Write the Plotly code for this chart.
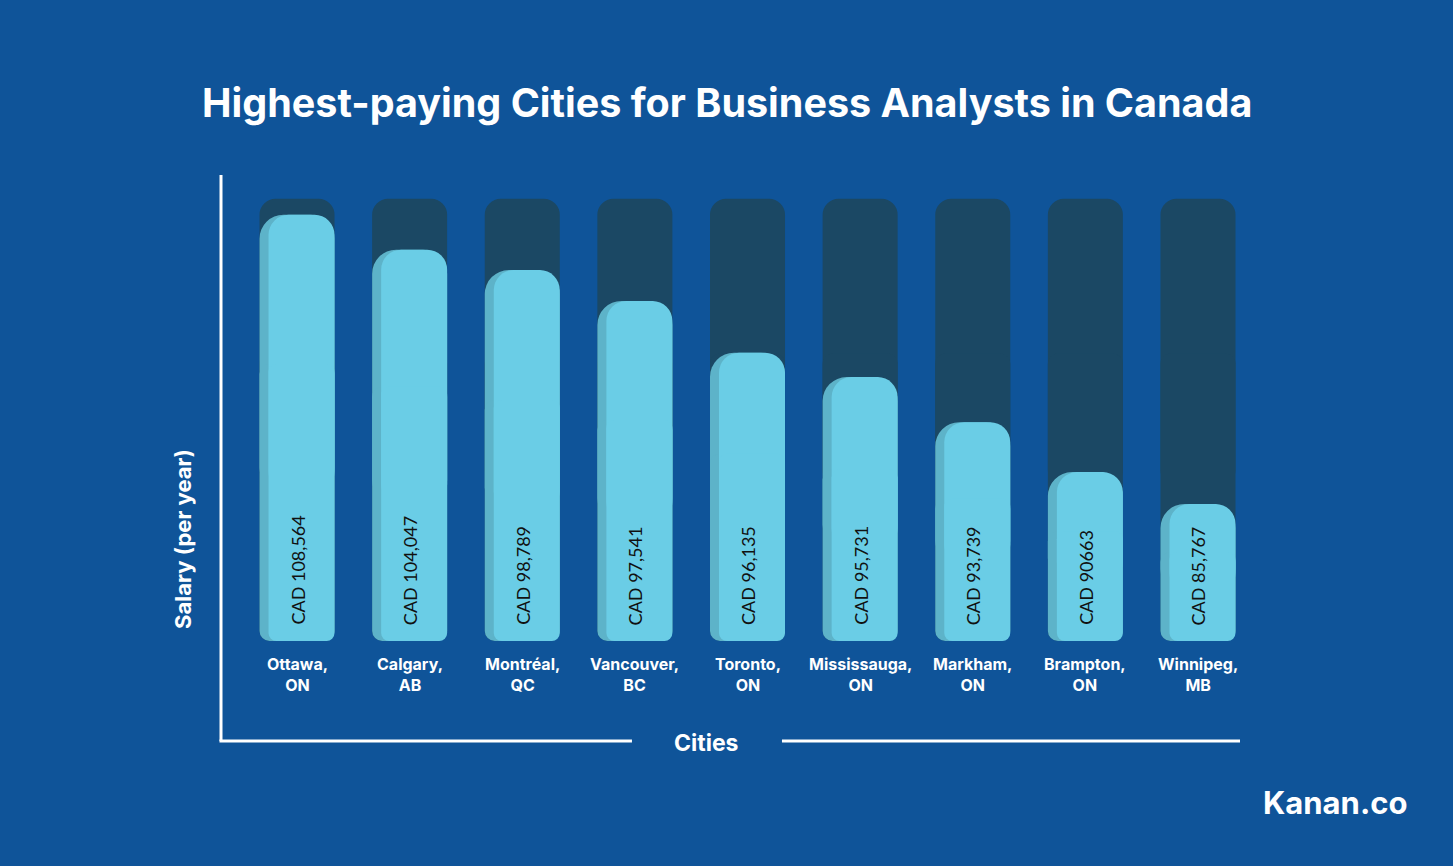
import plotly.graph_objects as go

cities = ["Ottawa,<br>ON", "Calgary,<br>AB", "Montréal,<br>QC", "Vancouver,<br>BC", "Toronto,<br>ON",
          "Mississauga,<br>ON", "Markham,<br>ON", "Brampton,<br>ON", "Winnipeg,<br>MB"]
salary_labels = ["CAD 108,564", "CAD 104,047", "CAD 98,789", "CAD 97,541", "CAD 96,135",
                 "CAD 95,731", "CAD 93,739", "CAD 90663", "CAD 85,767"]
# bar fill level as drawn in the graphic (percent of the background track)
bar_level = [96.4, 88.5, 83.9, 76.9, 65.2, 59.7, 49.5, 38.2, 31.0]
track = [100] * len(cities)

BG = "#0f5499"
TRACK = "#1b4864"
LIGHT = "#6acde6"
SHADE = "#5db3c9"

idx = list(range(len(cities)))
W = 0.666
XR = [-0.675, 8.373]

fig = go.Figure()
layers = [
    (track, W, -W / 2, TRACK, 16, 10),
    (bar_level, W, -W / 2, SHADE, 24, 10),
    (bar_level, W - 0.08, -W / 2 + 0.08, LIGHT, 20, 8),
]
n_ax = 0
for vals, w, off, col, r_top, r_bot in layers:
    # upper piece: rounded top end; lower piece: rounded bottom end (overlapping in the middle)
    pieces = [
        ([0.35 * v for v in vals], [0.65 * v for v in vals], r_top),
        ([0.65 * v for v in vals], [-0.65 * v for v in vals], r_bot),
    ]
    for base, height, rad in pieces:
        n_ax += 1
        xa = "x" if n_ax == 1 else f"x{n_ax}"
        fig.add_trace(go.Bar(x=idx, y=height, base=base, width=w, offset=off,
                             marker=dict(color=col, cornerradius=rad, line_width=0),
                             xaxis=xa, yaxis="y", hoverinfo="skip", showlegend=False))

annotations = []
for i, (c, s) in enumerate(zip(cities, salary_labels)):
    annotations.append(dict(x=i, y=0, xref="x", yref="y", text=s, textangle=-90, showarrow=False,
                            yanchor="bottom", xanchor="center", yshift=14,
                            font=dict(family="Lato", size=18, color="#111111")))
    annotations.append(dict(x=i, y=-0.072, xref="x", yref="paper", text="<b>" + c + "</b>", showarrow=False,
                            yanchor="middle", xanchor="center",
                            font=dict(family="Inter", size=16, color="white")))

annotations += [
    dict(x=0.4965, y=1.1545, xref="paper", yref="paper", text="<b>Highest-paying Cities for Business Analysts in Canada</b>",
         showarrow=False, xanchor="center", yanchor="middle", font=dict(family="Inter", size=39.5, color="white")),
    dict(x=0.476, y=-0.219, xref="paper", yref="paper", text="<b>Cities</b>", showarrow=False,
         xanchor="center", yanchor="middle", font=dict(family="Inter", size=23, color="white")),
    dict(x=-0.0373, y=0.219, xref="paper", yref="paper", text="<b>Salary (per year)</b>", showarrow=False,
         textangle=-90, xanchor="center", yanchor="middle", font=dict(family="Inter", size=22, color="white")),
    dict(x=1.094, y=-0.3455, xref="paper", yref="paper", text="<b>Kanan.co</b>", showarrow=False,
         xanchor="center", yanchor="middle", font=dict(family="Inter", size=31, color="white")),
]

shapes = [
    dict(type="line", xref="paper", yref="paper", x0=0, x1=0, y0=1, y1=-0.2146,
         line=dict(color="white", width=3)),
    dict(type="line", xref="paper", yref="paper", x0=-0.0015, x1=0.4033, y0=-0.2146, y1=-0.2146,
         line=dict(color="white", width=3)),
    dict(type="line", xref="paper", yref="paper", x0=0.5505, x1=1, y0=-0.2146, y1=-0.2146,
         line=dict(color="white", width=3)),
]

axis_style = dict(range=XR, showgrid=False, zeroline=False, showticklabels=False, fixedrange=True)
layout_axes = {"xaxis": dict(**axis_style)}
for k in range(2, n_ax + 1):
    layout_axes[f"xaxis{k}"] = dict(**axis_style, overlaying="x", matches="x")

fig.update_layout(
    width=1453, height=866,
    margin=dict(l=221, r=213, t=175, b=225),
    paper_bgcolor=BG, plot_bgcolor=BG,
    barmode="overlay",
    yaxis=dict(range=[0, 105.4], showgrid=False, zeroline=False, showticklabels=False, fixedrange=True),
    annotations=annotations,
    shapes=shapes,
    showlegend=False,
    **layout_axes,
)

fig.write_html("out.html", config={"displayModeBar": False})
